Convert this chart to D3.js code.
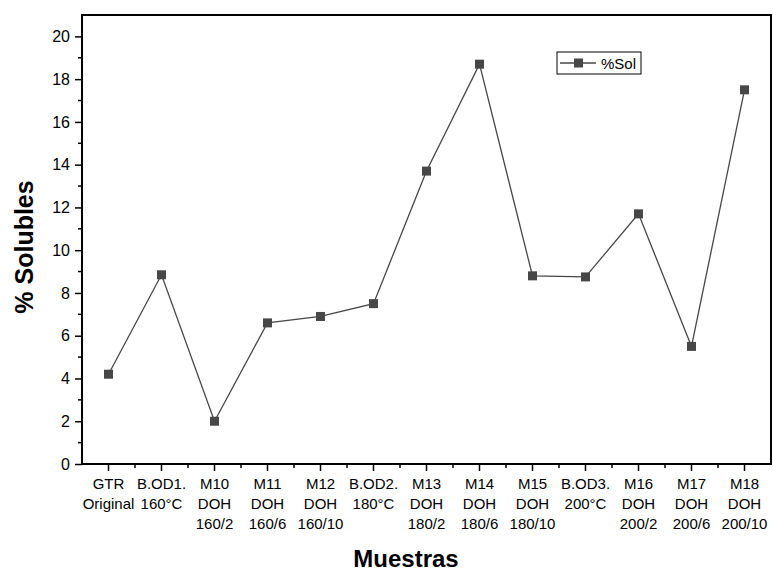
<!DOCTYPE html>
<html>
<head>
<meta charset="utf-8">
<script src="https://d3js.org/d3.v7.min.js"></script>
<style>
  body { margin: 0; background: #fff; }
  svg text { font-family: "Liberation Sans", Arimo, Arial, Helvetica, sans-serif !important; fill: #000; }
</style>
</head>
<body>
<svg id="chart" width="773" height="572" font-family="Liberation Sans"></svg>
<script>
// Samples (each label split into lines)
const categories = [
  ["GTR", "Original"], ["B.OD1.", "160°C"], ["M10", "DOH", "160/2"],
  ["M11", "DOH", "160/6"], ["M12", "DOH", "160/10"], ["B.OD2.", "180°C"],
  ["M13", "DOH", "180/2"], ["M14", "DOH", "180/6"], ["M15", "DOH", "180/10"],
  ["B.OD3.", "200°C"], ["M16", "DOH", "200/2"], ["M17", "DOH", "200/6"],
  ["M18", "DOH", "200/10"]
];
const solValues = [4.2, 8.85, 2.0, 6.6, 6.9, 7.5, 13.7, 18.7, 8.8, 8.75, 11.7, 5.5, 17.5];
const yTicks = [0, 2, 4, 6, 8, 10, 12, 14, 16, 18, 20];
const seriesName = "%Sol";

const svg = d3.select("#chart");
const plotL = 82, plotR = 771, plotT = 15, plotB = 464;
const ids = categories.map((d, i) => i);

const x = d3.scalePoint().domain(ids).range([plotL, plotR]).padding(0.5);
const band = d3.scaleBand().domain(ids).range([plotL, plotR]);
const y = d3.scaleLinear().domain([0, 21]).range([plotB, plotT]);

const ink = "#474747";

// frame
svg.append("rect")
  .attr("x", plotL).attr("y", plotT)
  .attr("width", plotR - plotL).attr("height", plotB - plotT)
  .attr("fill", "none").attr("stroke", "#000").attr("stroke-width", 2);

// y axis with minor ticks
const yAxis = svg.append("g").attr("transform", `translate(${plotL},0)`);
yAxis.call(d3.axisLeft(y).tickValues(yTicks).tickSize(7).tickPadding(5).tickFormat(d3.format("d")));
yAxis.attr("font-family", null).attr("font-size", null);
yAxis.select(".domain").remove();
yAxis.selectAll("line").attr("stroke-width", 1.5);
yAxis.selectAll("text").style("font-size", "16px");
yAxis.selectAll("line.minor")
  .data(d3.range(1, 21, 2))
  .join("line")
  .attr("class", "minor")
  .attr("x1", 0).attr("x2", -4)
  .attr("y1", d => y(d)).attr("y2", d => y(d))
  .attr("stroke", "#000").attr("stroke-width", 1.5);

// x axis: major ticks at samples, minor at band edges
const xAxis = svg.append("g").attr("transform", `translate(0,${plotB})`);
xAxis.selectAll("line.major")
  .data(ids)
  .join("line")
  .attr("class", "major")
  .attr("x1", d => x(d)).attr("x2", d => x(d))
  .attr("y1", 0).attr("y2", 7)
  .attr("stroke", "#000").attr("stroke-width", 1.5);
xAxis.selectAll("line.minor")
  .data(ids.slice(1))
  .join("line")
  .attr("class", "minor")
  .attr("x1", d => band(d)).attr("x2", d => band(d))
  .attr("y1", 0).attr("y2", 4)
  .attr("stroke", "#000").attr("stroke-width", 1.5);
const xLabels = xAxis.selectAll("text.cat")
  .data(ids)
  .join("text")
  .attr("class", "cat")
  .attr("text-anchor", "middle")
  .style("font-size", "15px");
xLabels.selectAll("tspan")
  .data(d => categories[d].map(t => ({ t, x: x(d) })))
  .join("tspan")
  .attr("x", d => d.x)
  .attr("y", (d, i) => 25 + i * 20)
  .text(d => d.t);

// axis titles
svg.append("text")
  .attr("x", 406).attr("y", 567)
  .attr("text-anchor", "middle")
  .style("font-size", "24px").style("font-weight", "bold")
  .text("Muestras");
svg.append("text")
  .attr("transform", `translate(33,247) rotate(-90)`)
  .attr("text-anchor", "middle")
  .style("font-size", "25px").style("font-weight", "bold")
  .text("% Solubles");

// series line + markers
const line = d3.line().x((d, i) => x(i)).y(d => y(d));
svg.append("path")
  .datum(solValues)
  .attr("d", line)
  .attr("fill", "none").attr("stroke", ink).attr("stroke-width", 1.3);
svg.selectAll("rect.pt")
  .data(solValues)
  .join("rect")
  .attr("class", "pt")
  .attr("x", (d, i) => x(i) - 4.5).attr("y", d => y(d) - 4.5)
  .attr("width", 9).attr("height", 9)
  .attr("fill", ink);

// legend
const lg = svg.append("g").attr("transform", "translate(557,52)");
lg.append("rect").attr("width", 84).attr("height", 22)
  .attr("fill", "#fff").attr("stroke", "#000").attr("stroke-width", 1);
lg.append("line").attr("x1", 3).attr("x2", 39).attr("y1", 11).attr("y2", 11)
  .attr("stroke", ink).attr("stroke-width", 1.3);
lg.append("rect").attr("x", 17).attr("y", 6.5).attr("width", 9).attr("height", 9).attr("fill", ink);
lg.append("text").attr("x", 44).attr("y", 16.5).style("font-size", "15px").text(seriesName);
</script>
</body>
</html>
